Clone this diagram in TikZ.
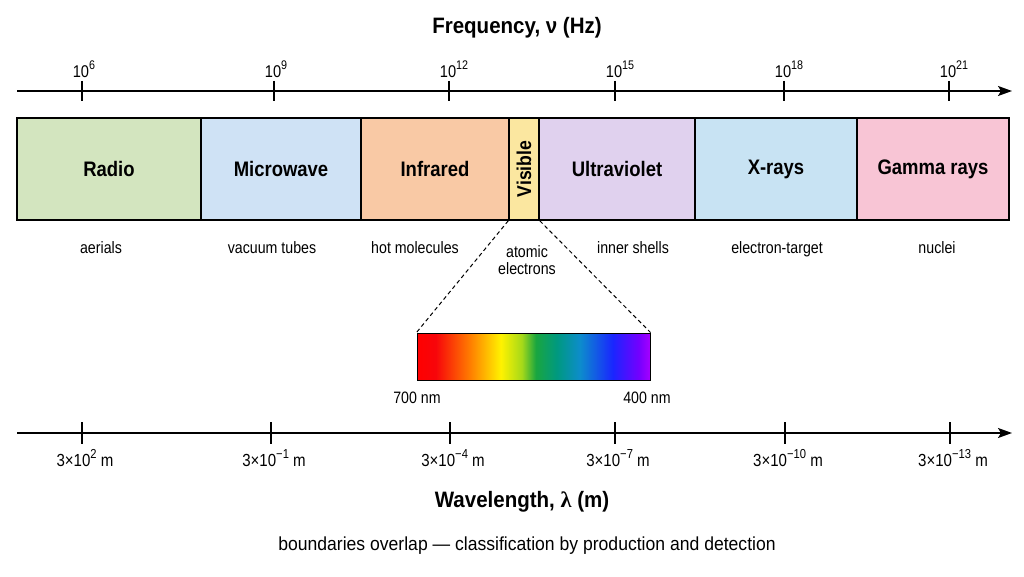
\documentclass[tikz,border=0pt]{standalone}
\usepackage{fontspec}
\setmainfont{Liberation Sans}
\newfontfamily\grk{Liberation Serif}
\newfontfamily\condA{Liberation Sans}[FakeStretch=0.86]
\newfontfamily\condB{Liberation Sans}[FakeStretch=0.88]
\newfontfamily\condT{Liberation Sans}[FakeStretch=0.92]
\newfontfamily\condN{Liberation Sans}[FakeStretch=0.93]
\usetikzlibrary{arrows.meta}
\definecolor{cradio}{HTML}{D3E5BF}
\definecolor{cmicro}{HTML}{CFE2F5}
\definecolor{cinfra}{HTML}{F9C9A5}
\definecolor{cvis}{HTML}{FBE7A0}
\definecolor{cuv}{HTML}{E0D1EE}
\definecolor{cxray}{HTML}{C8E3F3}
\definecolor{cgamma}{HTML}{F8C5D5}
\pgfdeclarehorizontalshading{visspec}{100bp}{rgb(0bp)=(1,0,0); rgb(25bp)=(1,0,0); rgb(29bp)=(0.97,0.02,0.04); rgb(36.5bp)=(1,0.5,0); rgb(43bp)=(1,0.95,0); rgb(47.5bp)=(0.65,0.85,0.1); rgb(50.5bp)=(0.1,0.65,0.25); rgb(55bp)=(0,0.6,0.5); rgb(60bp)=(0.05,0.55,0.8); rgb(67bp)=(0.1,0.15,1); rgb(72.5bp)=(0.45,0,1); rgb(75bp)=(0.65,0,1); rgb(100bp)=(0.65,0,1)}
\newcommand\mysup[3]{\raisebox{#2}{\fontsize{#3}{#3}\selectfont #1}}
\begin{document}
\begin{tikzpicture}[x=1pt,y=-1pt,
  axisline/.style={line width=1.6pt,-{Stealth[length=14pt,width=10pt,inset=3pt]}},
  tickline/.style={line width=1.2pt},
  band/.style={draw=black,line width=1.4pt,minimum height=102pt,inner sep=0pt,font=\condB\fontsize{21}{24}\selectfont\bfseries},
  title/.style={anchor=base,inner sep=0pt,font=\condT\fontsize{22.3}{26}\selectfont\bfseries},
  toplab/.style={anchor=base,inner sep=0pt,font=\condA\fontsize{17}{20}\selectfont},
  botlab/.style={anchor=base,inner sep=0pt,font=\condA\fontsize{17.5}{20}\selectfont},
  sublab/.style={anchor=base,inner sep=0pt,font=\condA\fontsize{16.5}{19}\selectfont},
  dashline/.style={dashed,line width=1pt,dash pattern=on 4pt off 3pt}]
\useasboundingbox[fill=white] (0,0) rectangle (1024,577);

% title
\node[title] (ftitle) at (517,34) {Frequency, ν (Hz)};

% frequency axis
\coordinate (fa0) at (17,91);
\coordinate (fa1) at (1012,91);
\draw[axisline] (fa0) -- (fa1);
\foreach \x/\e/\n in {82/6/a,274/9/b,449/12/c,615/15/d,784/18/e,949/21/f}{
  \coordinate (ft\n) at (\x,91);
  \draw[tickline] (ft\n) ++(0,-10) -- ++(0,20);
  \node[toplab] (fl\n) at (\x-1,78) {10\rlap{\mysup{\e}{8.5pt}{12.5}}};
}

% bands
\node[band,fill=cradio,minimum width=184pt] (radio) at (109,169) {Radio};
\node[band,fill=cmicro,minimum width=160pt] (micro) at (281,169) {Microwave};
\node[band,fill=cinfra,minimum width=148pt] (infra) at (435,169) {Infrared};
\node[band,fill=cvis,minimum width=30pt] (vis) at (524,169) {};
\node[rotate=90,inner sep=0pt,font=\condB\fontsize{20}{22}\selectfont\bfseries] (vistext) at (vis.center) {Visible};
\node[band,fill=cuv,minimum width=156pt] (uv) at (617,169) {Ultraviolet};
\node[band,fill=cxray,minimum width=162pt] (xray) at (776,169) {X-rays};
\node[band,fill=cgamma,minimum width=152pt] (gamma) at (933,169) {Gamma rays};

% sources
\node[sublab] (s1) at (101,253) {aerials};
\node[sublab] (s2) at (272,253) {vacuum tubes};
\node[sublab] (s3) at (415,253) {hot molecules};
\node[sublab] (s4a) at (527,258) {atomic};
\node[sublab] (s4b) at (527,274) {electrons};
\node[sublab] (s5) at (633,253) {inner shells};
\node[sublab] (s6) at (777,253) {electron-target};
\node[sublab] (s7) at (937,253) {nuclei};

% visible spectrum
\node[draw=black,line width=1pt,inner sep=0pt,minimum width=233pt,minimum height=47pt,shading=visspec] (spec) at (533.5,356.5) {};
\draw[dashline] (vis.south west) -- (spec.north west);
\draw[dashline] (vis.south east) -- (spec.north east);
\node[sublab] (nm700) at (417,403) {700 nm};
\node[sublab] (nm400) at (647,403) {400 nm};

% wavelength axis
\coordinate (wa0) at (17,433);
\coordinate (wa1) at (1012,433);
\draw[axisline] (wa0) -- (wa1);
\foreach \x/\e/\n in {82/2/a,271/−1/b,450/−4/c,615/−7/d,785/−10/e,950/−13/f}{
  \coordinate (wt\n) at (\x,433);
  \draw[tickline] (wt\n) ++(0,-11) -- ++(0,22);
  \node[botlab] (wl\n) at (\x+3,466) {3×10\mysup{\e}{8pt}{13} m};
}

\node[title] (wtitle) at (522,507) {Wavelength, {\grk λ} (m)};
\node[anchor=base,inner sep=0pt,font=\condN\fontsize{18.9}{21}\selectfont] (note) at (527,550) {boundaries overlap — classification by production and detection};
\end{tikzpicture}
\end{document}
